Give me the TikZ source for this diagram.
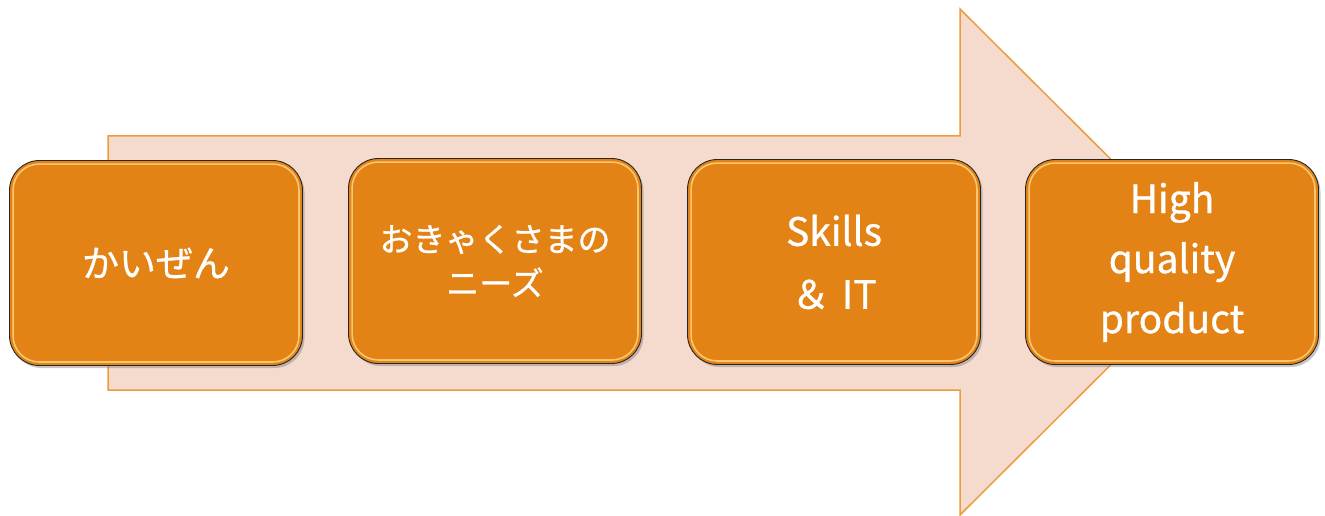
\documentclass[tikz,border=0pt]{standalone}
\usepackage{fontspec}
\setmainfont[FakeBold=0.8]{Noto Sans CJK JP}
\usetikzlibrary{shadows}
\definecolor{arrowfill}{HTML}{F5DACE}
\definecolor{arrowline}{HTML}{EE9B3C}
\definecolor{boxfill}{HTML}{E38315}
\definecolor{boxglow}{HTML}{FFD889}
\tikzset{
  stepbox/.style={draw=black!85, line width=0.9pt, fill=boxfill, rounded corners=30pt,
    minimum width=293pt, minimum height=205pt, inner sep=0pt, align=center,
    text=white, drop shadow={shadow xshift=2pt, shadow yshift=-2.5pt, opacity=0.45}},
  glow/.style={draw=boxglow, line width=1.6pt, rounded corners=26pt, opacity=0.8},
  bigarrow/.style={fill=arrowfill, draw=arrowline, line width=1.5pt, line join=miter}
}
\begin{document}
\begin{tikzpicture}[x=1pt,y=-1pt]
\useasboundingbox (0,0) rectangle (1325,516);
\draw[bigarrow] (108,136) -- (960,136) -- (960,9) -- (1214,262) -- (960,515) -- (960,390) -- (108,390) -- cycle;
\node[stepbox, font=\fontsize{37}{44}\selectfont] (b1) at (156,263) {かいぜん};
\node[stepbox, font=\fontsize{33}{44}\selectfont] (b2) at (495,261) {おきゃくさまの\\ニーズ};
\node[stepbox, font=\fontsize{39}{63}\selectfont] (b3) at (834,262) {Skills\\＆\hspace{0.3em}IT};
\node[stepbox, font=\fontsize{39}{60}\selectfont] (b4) at (1172,262) {High\\quality\\product};
\foreach \b in {b1,b2,b3,b4}{
  \draw[glow] ([shift={(4pt,-4pt)}]\b.north west) rectangle ([shift={(-4pt,4pt)}]\b.south east);
}
\end{tikzpicture}
\end{document}
